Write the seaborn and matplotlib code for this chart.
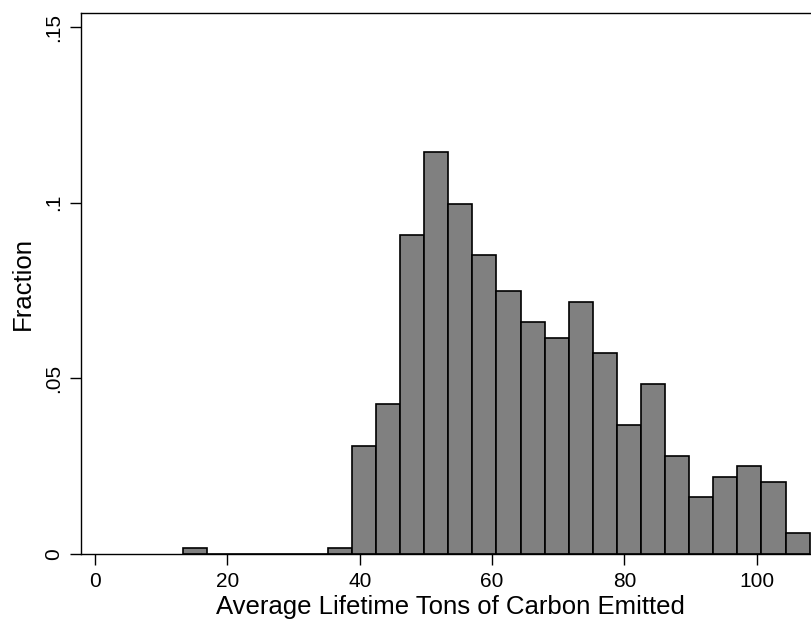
import numpy as np
import pandas as pd
import matplotlib
matplotlib.use("Agg")
import matplotlib.pyplot as plt
import seaborn as sns

# histogram bins (start, width, count) and the fraction in each bin
bin_start = 13.35
bin_width = 3.64
n_bins = 26
fractions = [0.0015, 0, 0, 0, 0, 0, 0.0015, 0.0308, 0.0426, 0.0909,
             0.1144, 0.0996, 0.0850, 0.0748, 0.0660, 0.0615, 0.0718, 0.0572,
             0.0367, 0.0483, 0.0278, 0.0162, 0.0219, 0.0249, 0.0205, 0.0058]

x_ticks = [0, 20, 40, 60, 80, 100]
y_ticks = [0, 0.05, 0.1, 0.15]
y_ticklabels = ["0", ".05", ".1", ".15"]

centers = bin_start + bin_width * (np.arange(n_bins) + 0.5)
df = pd.DataFrame({"tons": centers, "fraction": fractions})

sns.set_theme(style="ticks")
plt.rcParams["font.family"] = ["Liberation Sans", "DejaVu Sans"]

fig = plt.figure(figsize=(8.12, 6.22), dpi=100)
ax = fig.add_axes([0.0994, 0.1098, 0.910, 0.8688])

sns.histplot(data=df, x="tons", weights="fraction", binwidth=bin_width,
             binrange=(bin_start, bin_start + n_bins * bin_width),
             color="#808080", edgecolor="black", linewidth=1.2, alpha=1, ax=ax)

ax.set_xlim(-2.16, 109.5)
ax.set_ylim(0, 0.154)
ax.set_xticks(x_ticks)
ax.set_yticks(y_ticks)
ax.set_yticklabels(y_ticklabels, rotation=90, va="center")
ax.tick_params(axis="both", direction="out", length=8, width=1, color="black",
               labelsize=15, labelcolor="black", pad=5)
for s in ax.spines.values():
    s.set_color("black")
    s.set_linewidth(1)

ax.set_xlabel("Average Lifetime Tons of Carbon Emitted", fontsize=18.5, color="black", labelpad=3)
ax.set_ylabel("Fraction", fontsize=18.5, color="black", labelpad=6)

fig.savefig("out.png", dpi=100)
